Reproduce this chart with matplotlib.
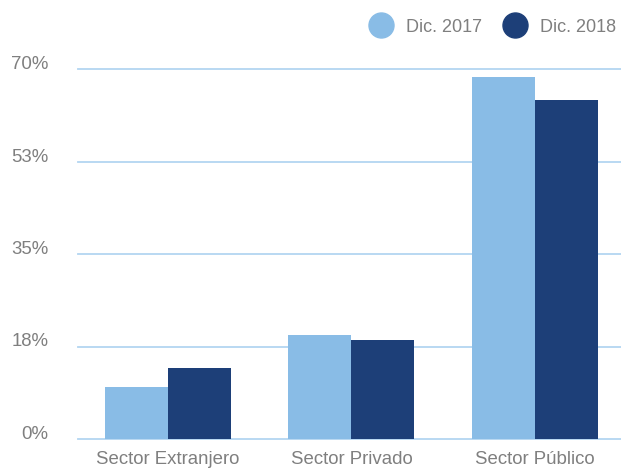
import matplotlib
matplotlib.use("Agg")
import matplotlib.pyplot as plt
import numpy as np
from matplotlib.lines import Line2D

# Participación por sector, diciembre 2017 vs diciembre 2018 (%)
sectores = ["Sector Extranjero", "Sector Privado", "Sector Público"]
dic_2017 = [9.8, 19.7, 68.5]
dic_2018 = [13.4, 18.7, 64.1]
series_labels = ["Dic. 2017", "Dic. 2018"]
y_ticks = [0, 17.5, 35, 52.5, 70]
y_tick_labels = ["0%", "18%", "35%", "53%", "70%"]

LIGHT = "#89BCE6"
DARK = "#1D3F78"
GRID = "#B3D5F1"
TEXT = "#7F7F7F"

plt.rcParams["font.family"] = ["Liberation Sans", "DejaVu Sans"]

fig = plt.figure(figsize=(6.21, 4.68), dpi=100)
ax = fig.add_axes([78 / 621, 1 - 439 / 468, 1 - 78 / 621, (439 - 69) / 468])

x = np.arange(len(sectores))
w = 0.343
ax.bar(x - w / 2, dic_2017, width=w, color=LIGHT, zorder=3)
ax.bar(x + w / 2, dic_2018, width=w, color=DARK, zorder=3)

ax.set_xlim(-0.49, 2.469)
ax.set_ylim(0, 70)
ax.set_yticks(y_ticks)
ax.set_yticklabels(y_tick_labels)
ax.set_xticks(x)
ax.set_xticklabels(sectores)
for lbl in ax.get_yticklabels():
    lbl.set_verticalalignment("baseline")

ax.tick_params(axis="y", length=0, pad=21.5, labelsize=13.4, labelcolor=TEXT)
ax.tick_params(axis="x", length=0, pad=8.5, labelsize=13.4, labelcolor=TEXT)

for y in y_ticks:
    ax.axhline(y, color=GRID, linewidth=1.3, zorder=1, clip_on=False)

for side in ax.spines.values():
    side.set_visible(False)

handles = [
    Line2D([], [], marker="o", linestyle="", markersize=18, color=LIGHT),
    Line2D([], [], marker="o", linestyle="", markersize=18, color=DARK),
]
leg = fig.legend(
    handles, series_labels, loc="center right",
    bbox_to_anchor=(616 / 621, 1 - 27 / 468), ncol=2, frameon=False,
    fontsize=13, handlelength=1.0, handletextpad=0.9, columnspacing=1.3,
    borderaxespad=0, borderpad=0,
)
for t in leg.get_texts():
    t.set_color(TEXT)

fig.savefig("out.png", dpi=100)
